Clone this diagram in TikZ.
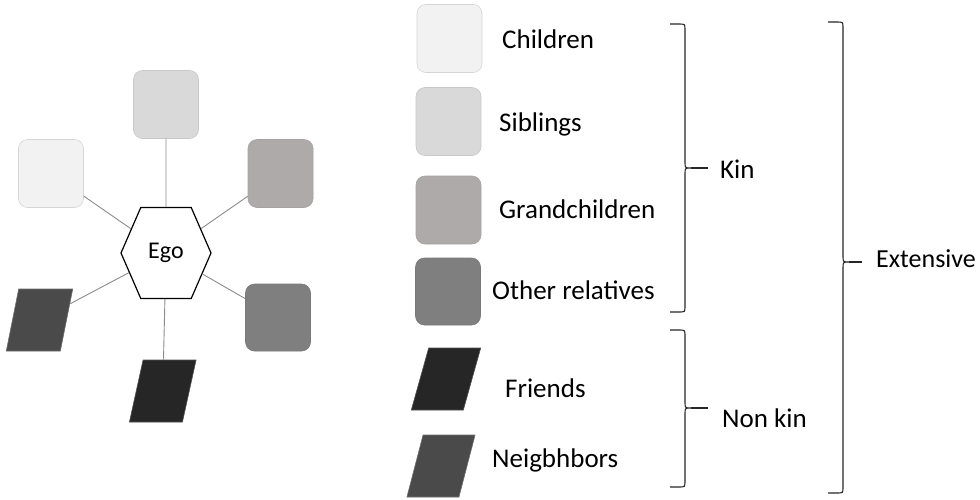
\documentclass[tikz,border=0pt]{standalone}
\usepackage{fontspec}
\setmainfont{Carlito}
\usetikzlibrary{shapes.symbols}
\definecolor{cChild}{HTML}{F2F2F2}
\definecolor{cSib}{HTML}{D9D9D9}
\definecolor{cGrand}{HTML}{AEAAAA}
\definecolor{cOther}{HTML}{7F7F7F}
\definecolor{cFriend}{HTML}{262626}
\definecolor{cNeigh}{HTML}{4A4A4A}
\definecolor{cLine}{HTML}{8C8C8C}
\newcommand{\wbrace}[6]{%
  \draw[bracestyle] (#1,#3) -- (#2-6,#3) .. controls (#2,#3) .. (#2,#3+6)
    -- (#2,#4-6) .. controls (#2,#4) .. (#2+6,#4)
    .. controls (#2,#4) .. (#2,#4+6)
    -- (#2,#5-6) .. controls (#2,#5) .. (#2-6,#5) -- (#1,#5);
  \draw[bracestyle] (#2+6,#4) -- (#6,#4);}
% parallelogram node: name, x, y, top width, slant, colour
\newcommand{\parnode}[6]{%
  \begin{scope}[shift={(#2,#3)}, xslant=#5]
    \node[parbox, minimum width=#4, fill=#6, draw=#6!80!white] (#1) at (0,0) {};
  \end{scope}}
\tikzset{
  sq/.style={rectangle, rounded corners=9, inner sep=0, minimum width=65, minimum height=68, line width=0.6},
  parbox/.style={rectangle, transform shape, inner sep=0, minimum height=62, line width=0.6},
  egohex/.style={signal, signal to=east and west, signal pointer angle=133, draw=black, fill=white, line width=1.2, minimum width=90, minimum height=91, inner sep=0, font=\fontsize{24}{28}\selectfont},
  conn/.style={draw=cLine, line width=0.9},
  lbl/.style={anchor=base west, inner sep=0, font=\fontsize{27}{32}\selectfont},
  bracestyle/.style={draw=black!85, line width=1.1}
}
\begin{document}
\begin{tikzpicture}[x=1pt,y=-1pt]
\useasboundingbox[fill=white] (0,0) rectangle (980,499);
% left diagram
\node[sq, fill=cSib, draw=cSib!92!black] (lS) at (166,104.5) {};
\node[sq, fill=cChild, draw=cChild!88!black] (lC) at (51,173.5) {};
\node[sq, fill=cGrand, draw=cGrand!95!black] (lG) at (280.5,173.5) {};
\node[sq, fill=cOther, draw=cOther!95!black, minimum height=67] (lO) at (278,317.5) {};
\parnode{lN}{39.5}{320}{54}{0.2}{cNeigh}
\parnode{lF}{162.75}{391}{53}{0.22}{cFriend}
\node[egohex] (ego) at (166,253) {Ego};
\draw[conn] (ego) -- (lS);
\draw[conn] (ego) -- (lC);
\draw[conn] (ego) -- (lG);
\draw[conn] (ego) -- (lO);
\draw[conn] (ego) -- (lN);
\draw[conn] (ego) -- (lF);
% legend
\node[sq, fill=cChild, draw=cChild!88!black] (rC) at (449.5,38.5) {};
\node[sq, fill=cSib, draw=cSib!92!black] (rS) at (448.5,121.5) {};
\node[sq, fill=cGrand, draw=cGrand!95!black] (rG) at (448.5,210) {};
\node[sq, fill=cOther, draw=cOther!95!black, minimum height=67] (rO) at (448,291.5) {};
\parnode{rF}{446}{379}{52}{0.28}{cFriend}
\parnode{rN}{441}{466}{52}{0.26}{cNeigh}
\node[lbl] (tC) at (502,48) {Children};
\node[lbl] (tS) at (499,131) {Siblings};
\node[lbl] (tG) at (499,218) {Grandchildren};
\node[lbl] (tO) at (492,299) {Other relatives};
\node[lbl] (tF) at (505,397) {Friends};
\node[lbl] (tN) at (492,467) {Neigbhbors};
% braces
\wbrace{670}{685}{24}{168}{312}{708}
\wbrace{670}{685}{330}{408}{487}{708}
\wbrace{828}{843}{22}{262}{493}{862}
\node[lbl] (tK) at (720,178) {Kin};
\node[lbl] (tNK) at (722,427) {Non kin};
\node[lbl, font=\fontsize{26}{31}\selectfont] (tE) at (876,267) {Extensive};
\end{tikzpicture}
\end{document}
